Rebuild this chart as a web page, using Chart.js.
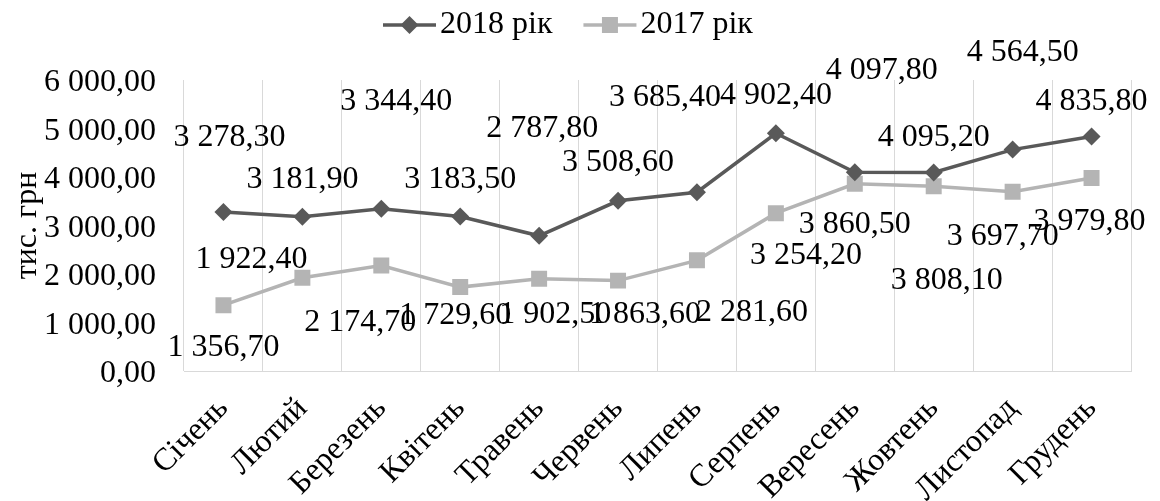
<!DOCTYPE html>
<html>
<head>
<meta charset="utf-8">
<script src="https://cdn.jsdelivr.net/npm/chart.js@4/dist/chart.umd.min.js"></script>
<style>
  body { margin: 0; background: #ffffff; }
  #chart { display: block; }
</style>
</head>
<body>
<canvas id="chart" width="1160" height="501"></canvas>
<script>

// Chart data

const months = ['Січень', 'Лютий', 'Березень', 'Квітень', 'Травень', 'Червень',
                'Липень', 'Серпень', 'Вересень', 'Жовтень', 'Листопад', 'Грудень'];
const values2018 = [3278.3, 3181.9, 3344.4, 3183.5, 2787.8, 3508.6, 3685.4, 4902.4, 4097.8, 4095.2, 4564.5, 4835.8];
const values2017 = [1356.7, 1922.4, 2174.7, 1729.6, 1902.5, 1863.6, 2281.6, 3254.2, 3860.5, 3808.1, 3697.7, 3979.8];
const yTicks = [0, 1000, 2000, 3000, 4000, 5000, 6000];

// Where each value label sits relative to its point (dx, dy)

const shift2018 = [[6, -74], [0, -37], [15, -107], [0, -37], [3, -107], [0, -38],
                   [-32, -95], [0, -38], [27, -102], [0, -35], [10, -97], [0, -35]];
const shift2017 = [[0, 42], [-51, -18], [-21, 57], [-5, 28], [16, 36], [27, 34],
                   [55, 52], [30, 42], [0, 41], [13, 94], [-10, 45], [-2, 44]];

const FONT = '"Liberation Serif", "Times New Roman", serif';
const SIZE = 32;
const dark = '#595959';
const light = '#b4b4b4';

Chart.defaults.font.family = FONT;
Chart.defaults.font.size = SIZE;
Chart.defaults.color = '#000000';

// Number format: 3 278,30

function formatValue(v) {
    const parts = v.toFixed(2).split('.');
    return parts[0].replace(/\B(?=(\d{3})+(?!\d))/g, ' ') + ',' + parts[1];
}

function drawMarker(ctx, style, x, y, color) {
    ctx.fillStyle = color;
    ctx.beginPath();
    if (style == 'rectRot') {
        ctx.moveTo(x, y - 9);
        ctx.lineTo(x + 9, y);
        ctx.lineTo(x, y + 9);
        ctx.lineTo(x - 9, y);
    } else {
        ctx.rect(x - 8, y - 8, 16, 16);
    }
    ctx.closePath();
    ctx.fill();
}

// Value labels next to each point

const valueLabels = {
    id: 'valueLabels',
    afterDatasetsDraw(chart) {
        const ctx = chart.ctx;
        ctx.save();
        ctx.font = SIZE + 'px ' + FONT;
        ctx.fillStyle = '#000000';
        ctx.textAlign = 'center';
        ctx.textBaseline = 'middle';
        chart.data.datasets.forEach((ds, i) => {
            const meta = chart.getDatasetMeta(i);
            meta.data.forEach((pt, j) => {
                const s = ds.labelShift[j];
                ctx.fillText(formatValue(ds.data[j]), pt.x + s[0], pt.y + s[1]);
            });
        });
        ctx.restore();
    }
};

// Legend with line and marker

const lineLegend = {
    id: 'lineLegend',
    afterDraw(chart) {
        const ctx = chart.ctx;
        ctx.save();
        ctx.font = SIZE + 'px ' + FONT;
        ctx.textBaseline = 'middle';
        ctx.textAlign = 'left';
        let x = 383;
        const y = 25;
        chart.data.datasets.forEach(ds => {
            ctx.strokeStyle = ds.borderColor;
            ctx.lineWidth = 3.5;
            ctx.beginPath();
            ctx.moveTo(x, y);
            ctx.lineTo(x + 53, y);
            ctx.stroke();
            drawMarker(ctx, ds.pointStyle, x + 26.5, y, ds.pointBackgroundColor);
            ctx.fillStyle = '#000000';
            ctx.fillText(ds.label, x + 57, y);
            x += 57 + ctx.measureText(ds.label).width + 31;
        });
        ctx.restore();
    }
};

const data = {
    labels: months,
    datasets: [{
        label: '2018 рік',
        data: values2018,
        labelShift: shift2018,
        borderColor: dark,
        borderWidth: 3.5,
        pointStyle: 'rectRot',
        pointRadius: 9,
        pointBackgroundColor: dark,
        pointBorderWidth: 0,
        tension: 0
    }, {
        label: '2017 рік',
        data: values2017,
        labelShift: shift2017,
        borderColor: light,
        borderWidth: 3.5,
        pointStyle: 'rect',
        pointRadius: 11.3,
        pointBackgroundColor: light,
        pointBorderWidth: 0,
        tension: 0
    }]
};

const options = {
    responsive: false,
    animation: false,
    layout: {
        padding: { top: 80, right: 29, bottom: 0, left: 0 }
    },
    plugins: {
        legend: { display: false },
        tooltip: { enabled: false }
    },
    scales: {
        x: {
            offset: true,
            grid: {
                offset: true,
                color: '#d9d9d9',
                lineWidth: 1,
                drawTicks: false
            },
            border: { color: '#d9d9d9', width: 1 },
            ticks: {
                minRotation: 45,
                maxRotation: 45,
                padding: 19,
                labelOffset: 0,
                autoSkip: false
            },
            afterFit: (scale) => { scale.height = 130; }
        },
        y: {
            min: 0,
            max: 6000,
            grid: { display: false, drawTicks: false },
            border: { display: false },
            afterBuildTicks: (scale) => {
                scale.ticks = yTicks.map(v => ({ value: v }));
            },
            ticks: {
                padding: 28,
                labelOffset: 3,
                callback: (value) => formatValue(value)
            },
            title: {
                display: true,
                text: 'тис. грн',
                padding: { top: 8, bottom: 0 }
            },
            afterFit: (scale) => { scale.width = 184; }
        }
    }
};

const myChart = new Chart(document.getElementById('chart'), {
    type: 'line',
    data,
    options: options,
    plugins: [valueLabels, lineLegend]
});

</script>
</body>
</html>
